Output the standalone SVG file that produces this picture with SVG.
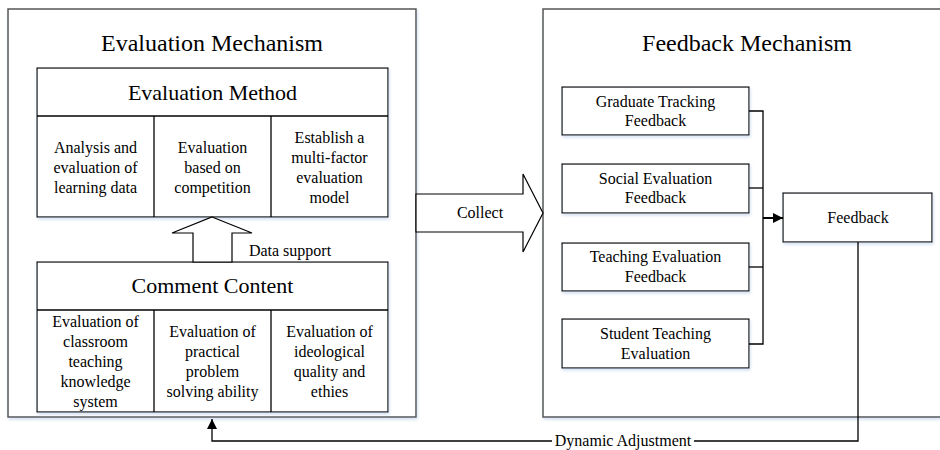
<svg xmlns="http://www.w3.org/2000/svg" width="940" height="450" viewBox="0 0 940 450">
<defs>
<filter id="sh" x="-5%" y="-5%" width="110%" height="115%">
<feDropShadow dx="1" dy="2" stdDeviation="1.5" flood-color="#b9cde6" flood-opacity="0.6"/>
</filter>
<marker id="ah" viewBox="0 0 10 10" refX="10" refY="5" markerWidth="10" markerHeight="10" markerUnits="userSpaceOnUse" orient="auto">
<path d="M0,0 L10,5 L0,10 Z" fill="#000"/>
</marker>
</defs>
<style>
text{font-family:'Liberation Serif','Times New Roman',serif;fill:#000;text-anchor:middle}
.outer{fill:#fff;stroke:#555;stroke-width:1.5}
.box{fill:#fff;stroke:#000;stroke-width:1.2}
.t24{font-size:24px}
.t22{font-size:22px}
.t16{font-size:16px}
.ln{fill:none;stroke:#000;stroke-width:1.3}
</style>
<rect width="940" height="450" fill="#fff"/>

<g id="evaluation-mechanism">
<rect class="outer" x="8" y="9" width="408" height="408" filter="url(#sh)"/>
<text class="t24" x="212" y="51">Evaluation Mechanism</text>
</g>

<g id="evaluation-method">
<rect class="box" x="37" y="68" width="351" height="149" filter="url(#sh)"/>
<line class="ln" x1="37" y1="116" x2="388" y2="116"/>
<line class="ln" x1="154" y1="116" x2="154" y2="217"/>
<line class="ln" x1="271" y1="116" x2="271" y2="217"/>
<text class="t22" x="212.5" y="100">Evaluation Method</text>
<text class="t16" x="95.5" y="153">Analysis and</text>
<text class="t16" x="95.5" y="173">evaluation of</text>
<text class="t16" x="95.5" y="193">learning data</text>
<text class="t16" x="212.5" y="153">Evaluation</text>
<text class="t16" x="212.5" y="173">based on</text>
<text class="t16" x="212.5" y="193">competition</text>
<text class="t16" x="329.5" y="143">Establish a</text>
<text class="t16" x="329.5" y="163">multi-factor</text>
<text class="t16" x="329.5" y="183">evaluation</text>
<text class="t16" x="329.5" y="203">model</text>
</g>

<g id="comment-content">
<rect class="box" x="37" y="262" width="351" height="150" filter="url(#sh)"/>
<line class="ln" x1="37" y1="310" x2="388" y2="310"/>
<line class="ln" x1="154" y1="310" x2="154" y2="412"/>
<line class="ln" x1="271" y1="310" x2="271" y2="412"/>
<text class="t22" x="212.5" y="293">Comment Content</text>
<text class="t16" x="95.5" y="327">Evaluation of</text>
<text class="t16" x="95.5" y="347">classroom</text>
<text class="t16" x="95.5" y="367">teaching</text>
<text class="t16" x="95.5" y="387">knowledge</text>
<text class="t16" x="95.5" y="407">system</text>
<text class="t16" x="212.5" y="337">Evaluation of</text>
<text class="t16" x="212.5" y="357">practical</text>
<text class="t16" x="212.5" y="377">problem</text>
<text class="t16" x="212.5" y="397">solving ability</text>
<text class="t16" x="329.5" y="337">Evaluation of</text>
<text class="t16" x="329.5" y="357">ideological</text>
<text class="t16" x="329.5" y="377">quality and</text>
<text class="t16" x="329.5" y="397">ethies</text>
</g>

<g id="feedback-mechanism">
<rect class="outer" x="543" y="9" width="410" height="408" filter="url(#sh)"/>
<text class="t24" x="747" y="51">Feedback Mechanism</text>
</g>

<g id="graduate-tracking">
<rect class="box" x="562" y="87" width="187" height="48" filter="url(#sh)"/>
<text class="t16" x="655.5" y="107">Graduate Tracking</text>
<text class="t16" x="655.5" y="126">Feedback</text>
</g>
<g id="social-evaluation">
<rect class="box" x="562" y="164" width="187" height="49" filter="url(#sh)"/>
<text class="t16" x="655.5" y="184">Social Evaluation</text>
<text class="t16" x="655.5" y="203">Feedback</text>
</g>
<g id="teaching-evaluation">
<rect class="box" x="562" y="243" width="187" height="48" filter="url(#sh)"/>
<text class="t16" x="655.5" y="262">Teaching Evaluation</text>
<text class="t16" x="655.5" y="282">Feedback</text>
</g>
<g id="student-teaching">
<rect class="box" x="562" y="319" width="187" height="49" filter="url(#sh)"/>
<text class="t16" x="655.5" y="339">Student Teaching</text>
<text class="t16" x="655.5" y="359">Evaluation</text>
</g>
<g id="feedback">
<rect class="box" x="783" y="193" width="149" height="49" filter="url(#sh)"/>
<text class="t16" x="858" y="223">Feedback</text>
</g>

<g id="connectors">
<polygon points="212,217 252,233 232,233 232,262 193,262 193,233 172,233" fill="#fff" stroke="#000" stroke-width="1.2"/>
<text class="t16" x="290" y="256">Data support</text>
<polygon points="416,194 523,194 523,174 543,213 523,252 523,232 416,232" fill="#fff" stroke="#000" stroke-width="1.2"/>
<text class="t16" x="480" y="218">Collect</text>
<polyline class="ln" points="749,111 763,111 763,344 749,344"/>
<line class="ln" x1="749" y1="188" x2="763" y2="188"/>
<line class="ln" x1="749" y1="267" x2="763" y2="267"/>
<line x1="763" y1="218" x2="783" y2="218" stroke="#000" stroke-width="2" marker-end="url(#ah)"/>
<polyline class="ln" points="858,242 858,441 694,441"/>
<polyline class="ln" points="552,441 212,441 212,419" marker-end="url(#ah)"/>
<text class="t16" x="623" y="446">Dynamic Adjustment</text>
</g>
</svg>
